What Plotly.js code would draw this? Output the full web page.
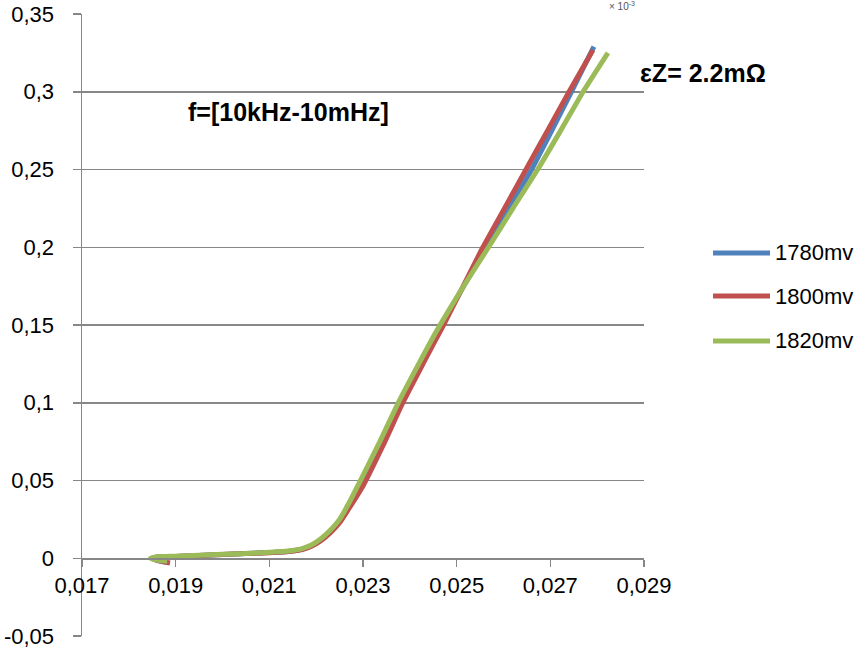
<!DOCTYPE html>
<html>
<head>
<meta charset="utf-8">
<script src="https://cdn.plot.ly/plotly-3.0.1.min.js"></script>
<style>html,body{margin:0;padding:0;background:#fff;}#chart{width:866px;height:648px;}</style>
</head>
<body>
<div id="chart"></div>
<script>
// Series data (x = Re, y = -Im)
const names = ["1780mv", "1800mv", "1820mv"];
const colors = ["#4F81BD", "#C0504D", "#9BBB59"];

const x1780 = [0.01885, 0.01862, 0.01850, 0.01862, 0.0190, 0.0195, 0.0200, 0.0205, 0.0210, 0.0214, 0.0217, 0.0219, 0.0221, 0.0223, 0.0225, 0.0227, 0.0230, 0.0234, 0.02382, 0.02425, 0.02468, 0.02515, 0.02562, 0.02611, 0.02660, 0.02703, 0.02745, 0.02793];
const y1780 = [-0.003, -0.0015, 0.0, 0.0008, 0.0012, 0.0018, 0.0024, 0.0030, 0.0037, 0.0044, 0.0058, 0.0080, 0.0118, 0.0170, 0.0235, 0.0330, 0.0475, 0.0720, 0.1000, 0.1250, 0.1500, 0.1750, 0.2000, 0.2250, 0.2500, 0.2750, 0.3000, 0.3290];

const x1800 = [0.01888, 0.01862, 0.01850, 0.01862, 0.0190, 0.0195, 0.0200, 0.0205, 0.0210, 0.0214, 0.0217, 0.0219, 0.0221, 0.0223, 0.0225, 0.0227, 0.0230, 0.02342, 0.02385, 0.02428, 0.02472, 0.02514, 0.02556, 0.02602, 0.02648, 0.02694, 0.02740, 0.02791];
const y1800 = [-0.003, -0.0015, 0.0, 0.0008, 0.0012, 0.0018, 0.0024, 0.0030, 0.0036, 0.0043, 0.0056, 0.0077, 0.0113, 0.0163, 0.0228, 0.0320, 0.0465, 0.0720, 0.1000, 0.1250, 0.1500, 0.1750, 0.2000, 0.2250, 0.2500, 0.2750, 0.3000, 0.3269];

const x1820 = [0.01882, 0.01860, 0.01846, 0.01860, 0.0190, 0.0195, 0.0200, 0.0205, 0.0210, 0.0214, 0.0217, 0.0219, 0.0221, 0.0223, 0.0225, 0.0227, 0.02295, 0.02336, 0.02376, 0.02419, 0.02455, 0.02515, 0.02568, 0.02620, 0.02673, 0.02722, 0.02770, 0.02823];
const y1820 = [-0.002, -0.0012, 0.0, 0.0009, 0.0013, 0.0019, 0.0025, 0.0031, 0.0038, 0.0046, 0.0062, 0.0085, 0.0125, 0.0180, 0.0250, 0.0355, 0.0502, 0.0750, 0.1004, 0.1250, 0.1450, 0.1750, 0.2000, 0.2250, 0.2500, 0.2750, 0.3000, 0.3250];

const xTickVals = [0.017, 0.019, 0.021, 0.023, 0.025, 0.027, 0.029];
const xTickText = ["0,017", "0,019", "0,021", "0,023", "0,025", "0,027", "0,029"];
const yTickVals = [-0.05, 0, 0.05, 0.1, 0.15, 0.2, 0.25, 0.3, 0.35];
const yTickText = ["-0,05", "0", "0,05", "0,1", "0,15", "0,2", "0,25", "0,3", "0,35"];

const xs = [x1780, x1800, x1820];
const ys = [y1780, y1800, y1820];

const traces = names.map((n, i) => ({
  x: xs[i], y: ys[i], name: n, type: "scatter", mode: "lines",
  line: {color: colors[i], width: 5, shape: "spline", smoothing: 0.5},
  showlegend: false, hoverinfo: "skip"
}));

const FONT = "Liberation Sans, Arial, sans-serif";
const grid = "#878787";

// custom legend (long line samples like the original)
const legY = [0.6158, 0.5466, 0.4743];
const shapes = [];
const annotations = [];
names.forEach((n, i) => {
  shapes.push({type: "line", xref: "paper", yref: "paper", x0: 1.1228, x1: 1.2242, y0: legY[i], y1: legY[i],
    line: {color: colors[i], width: 5}});
  annotations.push({xref: "paper", yref: "paper", x: 1.2295, y: legY[i], xanchor: "left", yanchor: "middle",
    text: n, showarrow: false, font: {family: FONT, size: 22, color: "#000"}});
});
annotations.push({xref: "paper", yref: "paper", x: 0.367, y: 0.843, xanchor: "center", yanchor: "middle",
  text: "<b>f=[10kHz-10mHz]</b>", showarrow: false, font: {family: FONT, size: 25, color: "#000"}});
annotations.push({xref: "paper", yref: "paper", x: 0.99, y: 0.905, xanchor: "left", yanchor: "middle",
  text: "<b>εZ= 2.2mΩ</b>", showarrow: false, font: {family: FONT, size: 25, color: "#000"}});
annotations.push({xref: "paper", yref: "paper", x: 0.96, y: 1.0, xanchor: "center", yanchor: "bottom",
  text: "× 10<sup>-3</sup>", showarrow: false, font: {family: FONT, size: 10, color: "#555"}});

const layout = {
  width: 866, height: 648,
  margin: {l: 82, r: 222, t: 14, b: 12},
  paper_bgcolor: "#fff", plot_bgcolor: "#fff",
  font: {family: FONT, size: 22, color: "#000"},
  xaxis: {
    range: [0.017, 0.029], tickvals: xTickVals, ticktext: xTickText,
    anchor: "free", position: 0.125,
    showgrid: false, zeroline: false,
    showline: true, linecolor: grid, linewidth: 1.5,
    ticks: "outside", ticklen: 7, tickwidth: 1.5, tickcolor: grid,
    tickfont: {family: FONT, size: 22, color: "#000"}
  },
  yaxis: {
    range: [-0.05, 0.35], tickvals: yTickVals, ticktext: yTickText,
    showgrid: true, gridcolor: grid, gridwidth: 1.5, zeroline: false,
    showline: true, linecolor: grid, linewidth: 1.5,
    ticks: "outside", ticklen: 8, tickwidth: 1.5, tickcolor: grid,
    ticklabelstandoff: 14, ticklabeloverflow: "allow",
    tickfont: {family: FONT, size: 22, color: "#000"}
  },
  shapes: shapes,
  annotations: annotations,
  showlegend: false
};

Plotly.newPlot("chart", traces, layout, {displayModeBar: false, staticPlot: true});
</script>
</body>
</html>
